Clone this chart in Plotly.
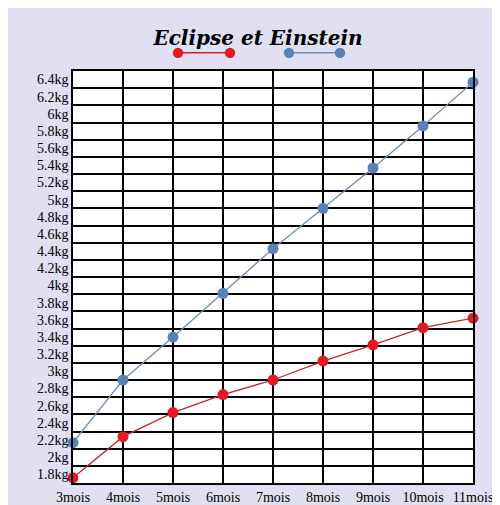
import plotly.graph_objects as go

mois = [3, 4, 5, 6, 7, 8, 9, 10, 11]
mois_labels = ["3mois", "4mois", "5mois", "6mois", "7mois", "8mois", "9mois", "10mois", "11mois"]
eclipse = [1.76, 2.24, 2.52, 2.73, 2.90, 3.12, 3.31, 3.51, 3.62]
einstein = [2.17, 2.90, 3.40, 3.91, 4.43, 4.90, 5.37, 5.86, 6.37]
kg_vals = [round(1.8 + 0.2 * i, 1) for i in range(24)]
kg_labels = [("%g" % v) + "kg" for v in kg_vals]

red_line, red_dot = "#c0282d", "#e01b24"
blue_line, blue_dot = "#6d8db5", "#5a80b8"

fig = go.Figure()
fig.add_trace(go.Scatter(x=mois, y=eclipse, mode="lines+markers",
                         line=dict(color=red_line, width=1.3),
                         marker=dict(color=red_dot, size=11), cliponaxis=False))
fig.add_trace(go.Scatter(x=mois, y=einstein, mode="lines+markers",
                         line=dict(color=blue_line, width=1.3),
                         marker=dict(color=blue_dot, size=11), cliponaxis=False))

# hand-drawn legend under the title
for x0, x1, lc, dc in [(0.2625, 0.3925, red_line, red_dot), (0.54, 0.6675, blue_line, blue_dot)]:
    fig.add_shape(type="line", xref="paper", yref="paper", x0=x0, x1=x1, y0=1.044, y1=1.044,
                  line=dict(color=lc, width=1.5))
    for xc in (x0, x1):
        fig.add_shape(type="circle", xref="paper", yref="paper",
                      x0=xc - 0.013, x1=xc + 0.013, y0=1.044 - 0.0126, y1=1.044 + 0.0126,
                      fillcolor=dc, line=dict(width=0))

fig.update_layout(
    width=500, height=505,
    margin=dict(l=65, r=35, t=63, b=30, autoexpand=False),
    paper_bgcolor="#e0e0f2", plot_bgcolor="white",
    font=dict(family="Liberation Serif, Times New Roman, serif", size=14, color="black"),
    title=dict(text="<b><i>Eclipse et Einstein</i></b>", x=0.5, xanchor="center", y=0.955,
               font=dict(family="DejaVu Serif", size=20)),
    showlegend=False,
    xaxis=dict(range=[3, 11], tickvals=mois, ticktext=mois_labels, automargin=False,
               showgrid=True, gridcolor="black", gridwidth=1.5,
               showline=True, linecolor="black", linewidth=1.5, mirror=True,
               zeroline=False, ticks=""),
    yaxis=dict(range=[1.7, 6.5], tickvals=kg_vals, ticktext=kg_labels, automargin=False,
               showgrid=False, zeroline=False, ticks="",
               showline=True, linecolor="black", linewidth=1.5, mirror=True,
               minor=dict(tick0=1.7, dtick=0.2, showgrid=True,
                          gridcolor="black", gridwidth=1.5)),
)

fig.write_html("out.html")
